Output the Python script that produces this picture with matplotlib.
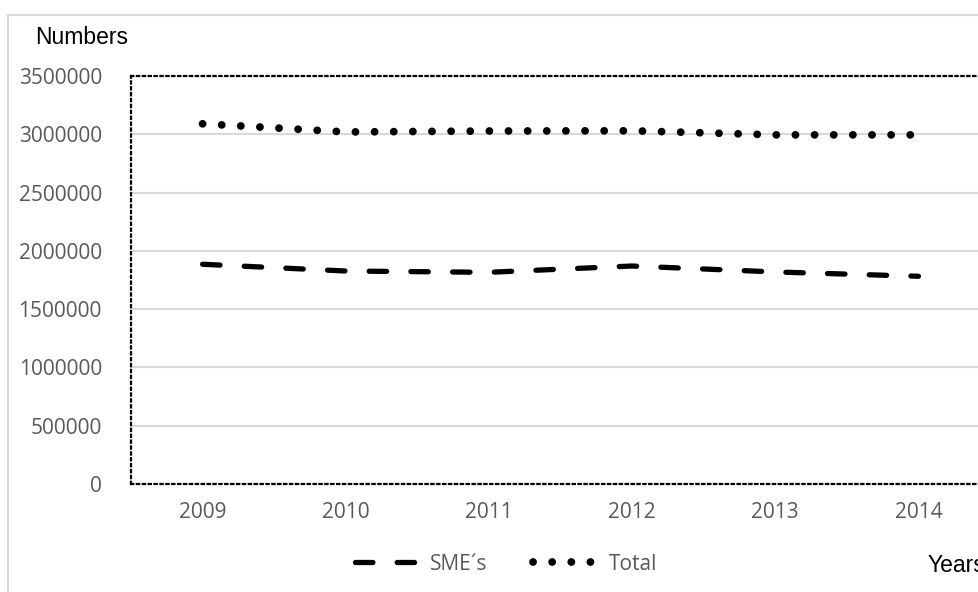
import matplotlib
matplotlib.use("Agg")
import matplotlib.pyplot as plt
from matplotlib.lines import Line2D

# values
years = ["2009", "2010", "2011", "2012", "2013", "2014"]
sme = [1885000, 1827000, 1816000, 1870000, 1819000, 1782000]
total = [3090000, 3020000, 3028000, 3030000, 2995000, 2995000]
yticks = [0, 500000, 1000000, 1500000, 2000000, 2500000, 3000000, 3500000]

tick_font = "Open Sans"
label_font = "Liberation Sans"
grey = "#595959"

fig = plt.figure(figsize=(9.79, 5.92), dpi=100)

# outer chart border (light grey), right and bottom are cropped off
fig.add_artist(Line2D([8.5 / 979, 8.5 / 979], [0, 1 - 14.5 / 592], transform=fig.transFigure,
                      color="#d9d9d9", lw=1.5))
fig.add_artist(Line2D([8.5 / 979, 1.0], [1 - 14.5 / 592, 1 - 14.5 / 592], transform=fig.transFigure,
                      color="#d9d9d9", lw=1.5))

ax = fig.add_axes([131 / 979, 108 / 592, 859 / 979, 408 / 592])
x = list(range(len(years)))

ax.plot(x, sme, color="black", lw=3.8, linestyle=(0, (3.3, 4.6)),
        dash_capstyle="round", solid_capstyle="round", label="SME\u00b4s", zorder=3)
ax.plot(x, total, color="black", lw=5.6, linestyle=(0, (0.01, 2.45)),
        dash_capstyle="round", label="Total", zorder=3)

ax.set_xlim(-0.5, 5.5)
ax.set_ylim(0, 3500000)
ax.set_yticks(yticks)
ax.set_yticklabels([str(v) for v in yticks], fontfamily=tick_font, fontsize=15, color=grey)
ax.set_xticks(x)
ax.set_xticklabels(years, fontfamily=tick_font, fontsize=15, color=grey)
ax.tick_params(axis="both", length=0)
ax.tick_params(axis="y", pad=21)
ax.tick_params(axis="x", pad=13)

ax.grid(axis="y", color="#d9d9d9", lw=1.5)
ax.set_axisbelow(True)
for side in ["top", "left", "bottom", "right"]:
    ax.spines[side].set_linestyle(":")
    ax.spines[side].set_linewidth(1.6)
    ax.spines[side].set_color("black")

fig.text(35 / 979, 1 - 38 / 592, "Numbers", fontfamily=label_font, fontsize=16.5,
         ha="left", va="center", color="black", stretch="condensed")
fig.text(928 / 979, 1 - 566 / 592, "Years", fontfamily=label_font, fontsize=16.5,
         ha="left", va="center", color="black")

leg = ax.legend(loc="center", bbox_to_anchor=(506 / 979, 1 - 564 / 592),
                bbox_transform=fig.transFigure, ncol=2, frameon=False,
                handlelength=3.0, columnspacing=2.2, handletextpad=0.6,
                prop={"family": tick_font, "size": 15})
for t in leg.get_texts():
    t.set_color(grey)

fig.savefig("out.png", dpi=100)
